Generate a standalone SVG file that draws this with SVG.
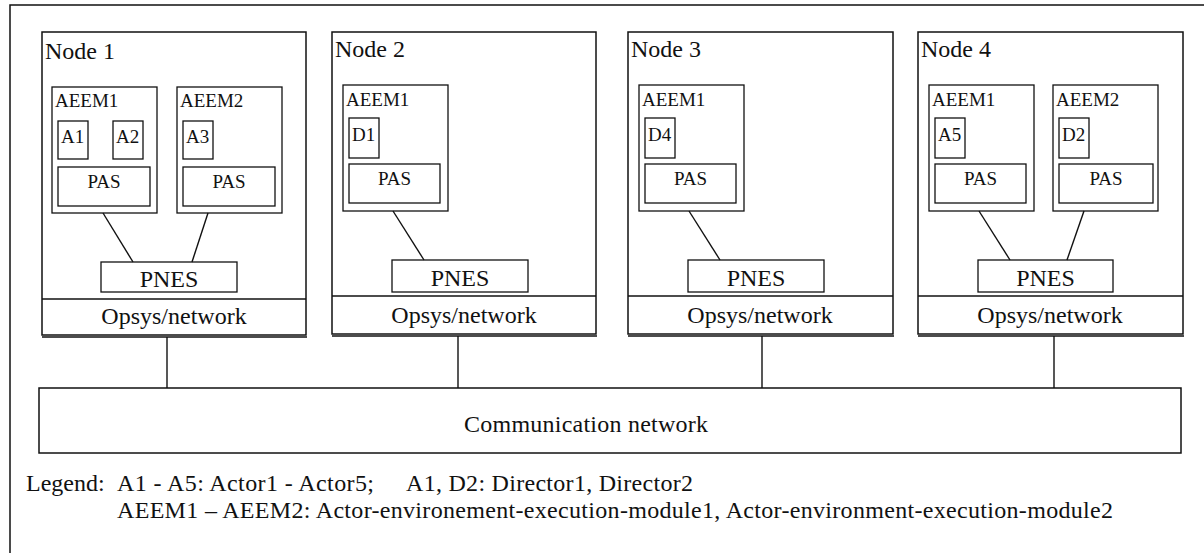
<svg xmlns="http://www.w3.org/2000/svg" width="1204" height="553" viewBox="0 0 1204 553" font-family="Liberation Serif, Times New Roman, DejaVu Serif, serif">
<style>
  .box{fill:none;stroke:#111;stroke-width:1.5}
  .in{fill:none;stroke:#111;stroke-width:1.3}
  .ln{fill:none;stroke:#111;stroke-width:1.4}
  .lg{font-size:24px;fill:#111}
  .sm{font-size:19px;fill:#111}
  .c{text-anchor:middle}
</style>
<rect x="0" y="0" width="1204" height="553" fill="#fff"/>
<rect x="10" y="5" width="1300" height="700" fill="none" stroke="#111" stroke-width="1.5"/>

<g id="node1">
  <rect class="box" x="42" y="32" width="264" height="303"/>
  <line class="box" x1="42" y1="337" x2="307" y2="337"/>
  <line class="box" x1="42" y1="299" x2="306" y2="299"/>
  <text class="lg" x="45" y="59">Node 1</text>
  <rect class="in" x="52" y="87" width="105" height="126"/>
  <text class="sm" x="55" y="107">AEEM1</text>
  <rect class="in" x="58" y="121" width="30" height="38"/>
  <text class="sm" x="61" y="143">A1</text>
  <rect class="in" x="113" y="121" width="30" height="38"/>
  <text class="sm" x="116" y="143">A2</text>
  <rect class="in" x="58" y="167" width="92" height="39"/>
  <text class="sm c" x="104" y="188">PAS</text>
  <rect class="in" x="177" y="87" width="105" height="126"/>
  <text class="sm" x="180" y="107">AEEM2</text>
  <rect class="in" x="183" y="121" width="30" height="38"/>
  <text class="sm" x="186" y="143">A3</text>
  <rect class="in" x="183" y="167" width="92" height="39"/>
  <text class="sm c" x="229" y="188">PAS</text>
  <rect class="in" x="101" y="262" width="136" height="30"/>
  <text class="lg c" x="169" y="287">PNES</text>
  <text class="lg c" x="174" y="324">Opsys/network</text>
</g>

<g id="node2">
  <rect class="box" x="332" y="32" width="264" height="302"/>
  <line class="box" x1="332" y1="336" x2="597" y2="336"/>
  <line class="box" x1="332" y1="296" x2="596" y2="296"/>
  <text class="lg" x="335" y="57">Node 2</text>
  <rect class="in" x="343" y="85" width="105" height="126"/>
  <text class="sm" x="346" y="106">AEEM1</text>
  <rect class="in" x="349" y="118" width="30" height="40"/>
  <text class="sm" x="352" y="141">D1</text>
  <rect class="in" x="349" y="164" width="91" height="39"/>
  <text class="sm c" x="394.5" y="185">PAS</text>
  <rect class="in" x="392" y="260" width="136" height="32"/>
  <text class="lg c" x="460" y="286">PNES</text>
  <text class="lg c" x="464" y="323">Opsys/network</text>
</g>

<g id="node3">
  <rect class="box" x="628" y="32" width="265" height="302"/>
  <line class="box" x1="628" y1="336" x2="894" y2="336"/>
  <line class="box" x1="628" y1="296" x2="893" y2="296"/>
  <text class="lg" x="631" y="57">Node 3</text>
  <rect class="in" x="639" y="85" width="105" height="126"/>
  <text class="sm" x="642" y="106">AEEM1</text>
  <rect class="in" x="645" y="118" width="30" height="40"/>
  <text class="sm" x="648" y="141">D4</text>
  <rect class="in" x="645" y="164" width="91" height="39"/>
  <text class="sm c" x="690.5" y="185">PAS</text>
  <rect class="in" x="688" y="260" width="136" height="32"/>
  <text class="lg c" x="756" y="286">PNES</text>
  <text class="lg c" x="760" y="323">Opsys/network</text>
</g>

<g id="node4">
  <rect class="box" x="918" y="32" width="265" height="302"/>
  <line class="box" x1="918" y1="336" x2="1184" y2="336"/>
  <line class="box" x1="918" y1="296" x2="1183" y2="296"/>
  <text class="lg" x="921" y="57">Node 4</text>
  <rect class="in" x="929" y="85" width="105" height="126"/>
  <text class="sm" x="932" y="106">AEEM1</text>
  <rect class="in" x="935" y="118" width="30" height="40"/>
  <text class="sm" x="938" y="141">A5</text>
  <rect class="in" x="935" y="164" width="91" height="39"/>
  <text class="sm c" x="980.5" y="185">PAS</text>
  <rect class="in" x="1053" y="85" width="105" height="126"/>
  <text class="sm" x="1056" y="106">AEEM2</text>
  <rect class="in" x="1059" y="118" width="30" height="40"/>
  <text class="sm" x="1062" y="141">D2</text>
  <rect class="in" x="1059" y="164" width="94" height="39"/>
  <text class="sm c" x="1106" y="185">PAS</text>
  <rect class="in" x="978" y="260" width="135" height="32"/>
  <text class="lg c" x="1045.5" y="286">PNES</text>
  <text class="lg c" x="1050" y="323">Opsys/network</text>
</g>

<g id="comm">
  <rect class="box" x="39" y="388" width="1142" height="65"/>
  <text class="lg" x="464" y="432" textLength="244">Communication network</text>
</g>

<g id="connectors">
  <line class="ln" x1="103" y1="213" x2="133" y2="262"/>
  <line class="ln" x1="208" y1="213" x2="192" y2="262"/>
  <line class="ln" x1="393" y1="211" x2="424" y2="260"/>
  <line class="ln" x1="689" y1="211" x2="720" y2="260"/>
  <line class="ln" x1="979" y1="211" x2="1010" y2="260"/>
  <line class="ln" x1="1084" y1="211" x2="1067" y2="260"/>
  <line class="ln" x1="167" y1="337" x2="167" y2="388"/>
  <line class="ln" x1="458" y1="336" x2="458" y2="388"/>
  <line class="ln" x1="762" y1="336" x2="762" y2="388"/>
  <line class="ln" x1="1054" y1="336" x2="1054" y2="388"/>
</g>

<g id="legend">
  <text class="lg" x="26" y="491">Legend:</text>
  <text class="lg" x="117" y="491" textLength="257">A1 - A5: Actor1 - Actor5;</text>
  <text class="lg" x="406" y="491" textLength="287">A1, D2: Director1, Director2</text>
  <text class="lg" x="117" y="518" textLength="996">AEEM1 – AEEM2: Actor-environement-execution-module1, Actor-environment-execution-module2</text>
</g>
</svg>
